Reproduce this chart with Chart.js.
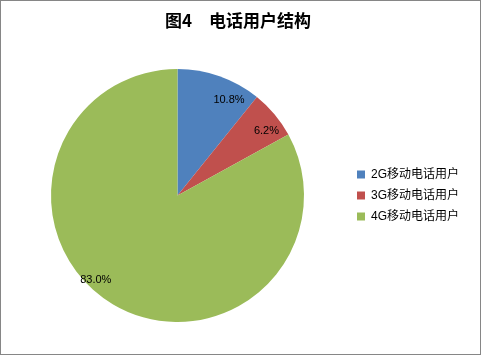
<!DOCTYPE html>
<html><head><meta charset="utf-8">
<script src="https://cdn.jsdelivr.net/npm/chart.js@4/dist/chart.umd.min.js"></script>
<style>html,body{margin:0;padding:0;background:#fff}#wrap{width:481px;height:355px;position:relative}</style>
</head><body><div id="wrap"><canvas id="c" width="481" height="355"></canvas></div>
<script>
const categories = ["2G移动电话用户", "3G移动电话用户", "4G移动电话用户"];
const shares = [10.8, 6.2, 83.0];
const valueLabels = ["10.8%", "6.2%", "83.0%"];
const colors = ["#4F81BD", "#C0504D", "#9BBB59"];
const titleText = "图4　电话用户结构";

const labelPlugin = {
  id: 'sliceLabels',
  afterDatasetsDraw(chart, args, opts) {
    const ctx = chart.ctx;
    const meta = chart.getDatasetMeta(0);
    ctx.save();
    ctx.font = '11px "Liberation Sans", "Noto Sans CJK SC", sans-serif';
    ctx.fillStyle = '#000';
    ctx.textAlign = 'center';
    ctx.textBaseline = 'middle';
    meta.data.forEach((arc, i) => {
      const p = arc.getProps(['x','y','startAngle','endAngle','outerRadius'], true);
      const mid = (p.startAngle + p.endAngle) / 2 + (opts.angleOffset[i] * Math.PI / 180);
      const r = p.outerRadius * opts.radiusFrac[i];
      ctx.fillText(valueLabels[i], p.x + Math.cos(mid) * r, p.y + Math.sin(mid) * r);
    });
    ctx.restore();
  }
};
const borderPlugin = {
  id: 'frame',
  afterDraw(chart) {
    const ctx = chart.ctx;
    ctx.save();
    ctx.strokeStyle = '#868686';
    ctx.lineWidth = 1;
    ctx.strokeRect(0.5, 0.5, chart.width - 1, chart.height - 1);
    ctx.restore();
  }
};

new Chart(document.getElementById('c'), {
  type: 'pie',
  data: {
    labels: categories,
    datasets: [{ data: shares, backgroundColor: colors, borderWidth: 0 }]
  },
  options: {
    responsive: false,
    animation: false,
    layout: { padding: { left: 7, right: 12, top: 0, bottom: 33 } },
    plugins: {
      title: {
        display: true, text: titleText, color: '#000',
        font: { family: '"Noto Sans CJK SC", sans-serif', size: 17, weight: 'bold' },
        padding: { top: 10, bottom: 38.6 }
      },
      legend: {
        position: 'right',
        fullSize: false,
        labels: {
          boxWidth: 8, boxHeight: 8, padding: 9, color: '#000',
          font: { family: '"Liberation Sans", "Noto Sans CJK SC", sans-serif', size: 12 }
        }
      },
      tooltip: { enabled: false },
      sliceLabels: { angleOffset: [8.8, 3.9, 13.4], radiusFrac: [0.86, 0.87, 0.93] }
    }
  },
  plugins: [labelPlugin, borderPlugin]
});
</script></body></html>
